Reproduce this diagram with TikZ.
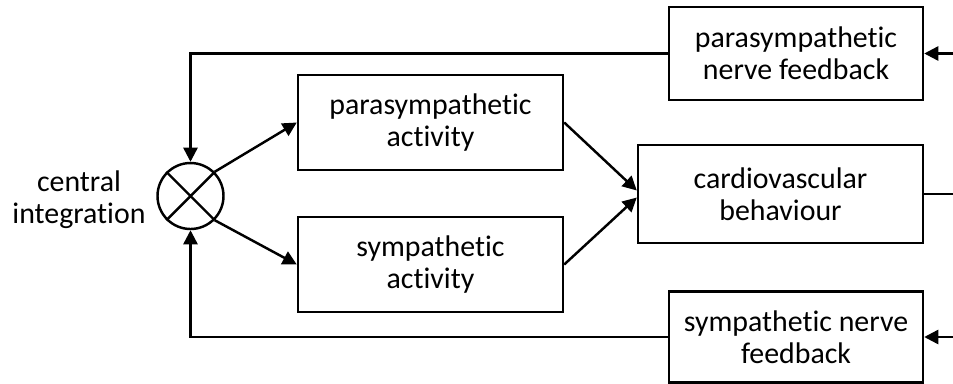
\documentclass[tikz,border=0pt]{standalone}
\usepackage{fontspec}
\setmainfont{Carlito}[Ligatures=NoCommon]
\usetikzlibrary{arrows.meta}

\tikzset{
  blk/.style={draw,line width=1.4pt,inner sep=0pt,align=center,
    font=\fontsize{17}{18.3}\selectfont},
  arr/.style={line width=1.4pt,-{Triangle[length=8pt,width=8pt]}}
}

\begin{document}
\begin{tikzpicture}[x=0.02cm,y=-0.02cm]
  \useasboundingbox (0,0) rectangle (953,383);

  % blocks
  \node[blk,minimum width=254*0.02cm,minimum height=93*0.02cm] (pnf) at (796,53.5) {parasympathetic\\nerve feedback};
  \node[blk,minimum width=285*0.02cm,minimum height=98*0.02cm] (cv) at (780.5,194) {cardiovascular\\behaviour};
  \node[blk,minimum width=254*0.02cm,minimum height=91*0.02cm] (snf) at (796,337) {sympathetic nerve\\feedback};
  \node[blk,minimum width=265*0.02cm,minimum height=95*0.02cm] (pa) at (430.5,122.5) {parasympathetic\\activity};
  \node[blk,minimum width=265*0.02cm,minimum height=95*0.02cm] (sa) at (430.5,264.5) {sympathetic\\activity};

  % summing junction
  \node[draw,circle,line width=1.4pt,minimum size=66*0.02cm,inner sep=0pt] (ci) at (190.5,196) {};
  \draw[line width=1.4pt] (ci.north west) -- (ci.south east) (ci.north east) -- (ci.south west);
  \node[font=\fontsize{17}{18.3}\selectfont,align=center] (lbl) at (79,200) {central\\integration};

  % inputs from the right
  \coordinate (pin) at (953,53.5);
  \coordinate (sin) at (953,337);
  \coordinate (cout) at (953,194);

  \draw[arr] (pin) -- (pnf.east);
  \draw[arr] (sin) -- (snf.east);
  \draw[line width=0.7pt] (cv.east) -- (cout);

  \draw[arr] (pnf.west) -| (ci.north);
  \draw[arr] (snf.west) -| (ci.south);
  \draw[arr] (ci.north east) -- (pa.west);
  \draw[arr] (ci.south east) -- (sa.west);
  \draw[arr] (pa.east) -- ([yshift=2pt]cv.west);
  \draw[arr] (sa.east) -- ([yshift=-2pt]cv.west);
\end{tikzpicture}
\end{document}
